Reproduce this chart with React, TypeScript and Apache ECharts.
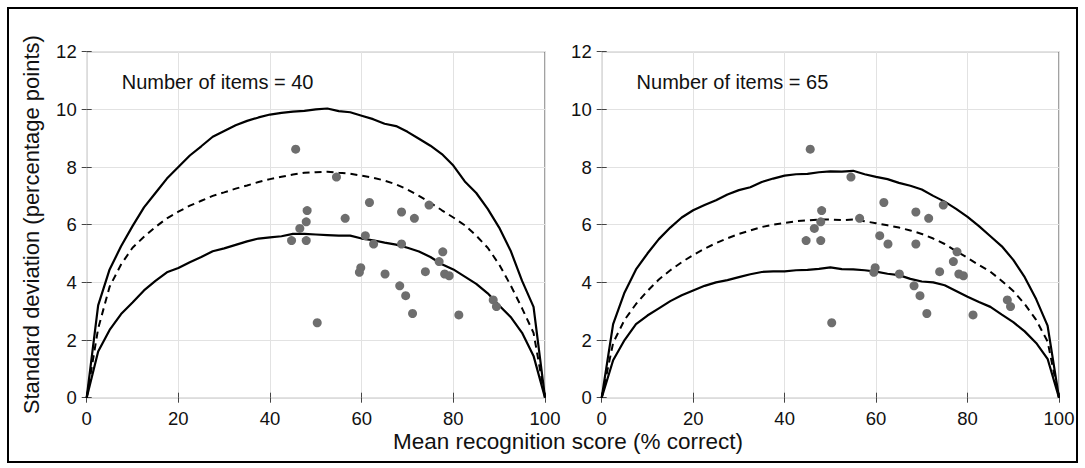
import React, { useEffect, useRef } from "react";
import * as echarts from "echarts";

// Mean recognition score grid of the model curves (% correct)
const CURVE_X = [0, 2.5, 5, 7.5, 10, 12.5, 15, 17.5, 20, 22.5, 25, 27.5, 30, 32.5, 35, 37.5, 40, 42.5, 45, 47.5, 50, 52.5, 55, 57.5, 60, 62.5, 65, 67.5, 70, 72.5, 75, 77.5, 80, 82.5, 85, 87.5, 90, 92.5, 95, 97.5, 100];

// Number of items = 40
const UPPER_40 = [0, 3.2, 4.45, 5.25, 5.95, 6.6, 7.1, 7.6, 8.0, 8.4, 8.72, 9.05, 9.25, 9.45, 9.6, 9.72, 9.82, 9.88, 9.92, 9.95, 10.0, 10.03, 9.94, 9.9, 9.78, 9.66, 9.5, 9.42, 9.22, 8.98, 8.74, 8.45, 8.05, 7.5, 7.1, 6.55, 5.9, 5.1, 4.05, 3.15, 0];
const MEAN_40 = [0, 2.4, 3.85, 4.62, 5.2, 5.58, 5.92, 6.22, 6.45, 6.66, 6.83, 7.0, 7.12, 7.25, 7.36, 7.48, 7.58, 7.66, 7.74, 7.8, 7.82, 7.84, 7.8, 7.77, 7.7, 7.63, 7.53, 7.4, 7.22, 7.0, 6.76, 6.5, 6.25, 5.98, 5.62, 5.2, 4.62, 3.9, 3.1, 2.25, 0];
const LOWER_40 = [0, 1.6, 2.35, 2.9, 3.3, 3.72, 4.05, 4.35, 4.5, 4.7, 4.88, 5.08, 5.18, 5.3, 5.42, 5.52, 5.56, 5.6, 5.68, 5.68, 5.66, 5.64, 5.62, 5.62, 5.52, 5.46, 5.38, 5.31, 5.2, 5.07, 4.88, 4.63, 4.45, 4.2, 3.95, 3.62, 3.2, 2.8, 2.25, 1.45, 0];

// Number of items = 65
const UPPER_65 = [0, 2.55, 3.65, 4.45, 5.0, 5.5, 5.9, 6.25, 6.5, 6.68, 6.85, 7.05, 7.2, 7.3, 7.48, 7.6, 7.7, 7.75, 7.76, 7.82, 7.85, 7.84, 7.87, 7.75, 7.66, 7.58, 7.45, 7.35, 7.22, 7.0, 6.8, 6.55, 6.27, 5.95, 5.6, 5.25, 4.78, 4.18, 3.42, 2.5, 0];
const MEAN_65 = [0, 1.9, 2.7, 3.25, 3.7, 4.1, 4.42, 4.7, 4.95, 5.17, 5.36, 5.53, 5.68, 5.8, 5.92, 6.0, 6.06, 6.12, 6.15, 6.18, 6.18, 6.16, 6.18, 6.12, 6.05, 5.98, 5.9, 5.8, 5.68, 5.52, 5.33, 5.08, 4.85, 4.6, 4.37, 4.05, 3.7, 3.25, 2.7, 1.95, 0];
const LOWER_65 = [0, 1.3, 2.0, 2.55, 2.85, 3.1, 3.35, 3.55, 3.72, 3.88, 4.0, 4.08, 4.18, 4.28, 4.36, 4.38, 4.38, 4.42, 4.43, 4.47, 4.52, 4.46, 4.45, 4.42, 4.37, 4.3, 4.25, 4.12, 4.03, 4.0, 3.9, 3.7, 3.5, 3.32, 3.15, 2.88, 2.62, 2.3, 1.9, 1.35, 0];

// Observed items (same in both panels)
const SCORES = [45.6, 54.5, 48.1, 47.9, 46.5, 44.7, 47.9, 56.4, 61.7, 60.8, 62.6, 59.8, 59.5, 65.1, 50.3, 68.7, 71.5, 74.7, 68.7, 77.7, 76.9, 73.9, 78.1, 79.1, 68.3, 69.6, 71.1, 81.2, 88.7, 89.4];
const SDS = [8.62, 7.65, 6.49, 6.1, 5.87, 5.45, 5.45, 6.22, 6.77, 5.62, 5.33, 4.51, 4.35, 4.29, 2.6, 6.44, 6.22, 6.68, 5.33, 5.06, 4.72, 4.37, 4.29, 4.23, 3.88, 3.54, 2.92, 2.87, 3.39, 3.16];

const PANEL_LABELS = ["Number of items = 40", "Number of items = 65"];
const X_TITLE = "Mean recognition score (% correct)";
const Y_TITLE = "Standard deviation (percentage points)";

export default function App() {
  const ref = useRef<HTMLDivElement>(null);

  useEffect(() => {
    if (!ref.current) return;
    const chart = echarts.init(ref.current, null, { renderer: "svg" });
    const font = "'Liberation Sans', Arial, Helvetica, sans-serif";
    const pairs = (ys: number[]) => CURVE_X.map((x, i) => [x, ys[i]]);
    const points = SCORES.map((x, i) => [x, SDS[i]]);

    const tickStyle = { show: true, inside: true, length: 5, lineStyle: { color: "#444", width: 1 } };
    const labelStyle = (margin: number) => ({
      show: true,
      margin,
      fontSize: 18.5,
      color: "#111",
      fontFamily: font,
      showMinLabel: true,
      showMaxLabel: true,
    });

    const xAxis = (gridIndex: number, position: string, main: boolean) => ({
      type: "value",
      gridIndex,
      position,
      min: 0,
      max: 100,
      interval: 20,
      axisLine: { show: false },
      axisTick: tickStyle,
      axisLabel: main ? labelStyle(11) : { show: false },
      splitLine: main ? { show: true, lineStyle: { color: "#e2e2e2", width: 1 } } : { show: false },
    });
    const yAxis = (gridIndex: number, position: string, main: boolean, name?: string) => ({
      type: "value",
      gridIndex,
      position,
      min: 0,
      max: 12,
      interval: 2,
      name: name || "",
      nameLocation: "middle",
      nameGap: 44,
      nameRotate: 90,
      nameTextStyle: { fontSize: 22, color: "#111", fontFamily: font },
      axisLine: { show: false },
      axisTick: tickStyle,
      axisLabel: main ? labelStyle(10) : { show: false },
      splitLine: main ? { show: true, lineStyle: { color: "#e2e2e2", width: 1 } } : { show: false },
    });

    const panelSeries = (xi: number, yi: number, up: number[], mid: number[], low: number[]) => [
      {
        type: "line",
        xAxisIndex: xi,
        yAxisIndex: yi,
        data: pairs(up),
        symbol: "none",
        lineStyle: { color: "#000", width: 2.2 },
        z: 2,
      },
      {
        type: "line",
        xAxisIndex: xi,
        yAxisIndex: yi,
        data: pairs(mid),
        symbol: "none",
        lineStyle: { color: "#000", width: 2, type: [7, 5] },
        z: 2,
      },
      {
        type: "line",
        xAxisIndex: xi,
        yAxisIndex: yi,
        data: pairs(low),
        symbol: "none",
        lineStyle: { color: "#000", width: 2.2 },
        z: 2,
      },
      {
        type: "scatter",
        xAxisIndex: xi,
        yAxisIndex: yi,
        data: points,
        symbolSize: 9,
        itemStyle: { color: "#6e6e6e", opacity: 1 },
        z: 3,
      },
    ];

    const textEl = (text: string, x: number, y: number, size: number, align: string) => ({
      type: "text",
      x,
      y,
      silent: true,
      style: {
        text,
        fontSize: size,
        fontFamily: font,
        fill: "#111",
        align,
        textAlign: align,
        verticalAlign: "middle",
        textVerticalAlign: "middle",
      },
      z: 50,
    });

    chart.setOption({
      animation: false,
      backgroundColor: "#fff",
      grid: [
        { left: 86.7, top: 51.7, width: 458.3, height: 346, show: true, borderColor: "#444", borderWidth: 1, backgroundColor: "transparent" },
        { left: 601.7, top: 51.7, width: 457.3, height: 346, show: true, borderColor: "#444", borderWidth: 1, backgroundColor: "transparent" },
      ],
      xAxis: [xAxis(0, "bottom", true), xAxis(0, "top", false), xAxis(1, "bottom", true), xAxis(1, "top", false)],
      yAxis: [yAxis(0, "left", true, Y_TITLE), yAxis(0, "right", false), yAxis(1, "left", true), yAxis(1, "right", false)],
      series: [
        ...panelSeries(0, 0, UPPER_40, MEAN_40, LOWER_40),
        ...panelSeries(2, 2, UPPER_65, MEAN_65, LOWER_65),
      ],
      graphic: [
        {
          type: "rect",
          silent: true,
          shape: { x: 8, y: 8, width: 1069, height: 454 },
          style: { fill: "none", stroke: "#000", lineWidth: 2 },
          z: 100,
        },
        textEl(PANEL_LABELS[0], 121.7, 81.5, 20, "left"),
        textEl(PANEL_LABELS[1], 636.6, 81.5, 20, "left"),
        textEl(X_TITLE, 568, 441, 22.5, "center"),
      ],
    });

    return () => chart.dispose();
  }, []);

  return (
    <div
      ref={ref}
      style={{ position: "absolute", left: 0, top: 0, width: 1085, height: 468, background: "#fff" }}
    />
  );
}
